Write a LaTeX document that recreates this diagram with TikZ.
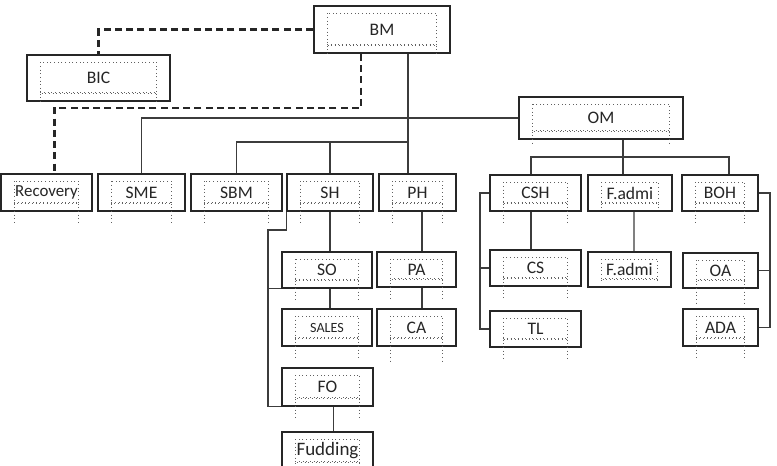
\documentclass[tikz,border=0pt]{standalone}
\usepackage{fontspec}
\setmainfont{Carlito}
\usetikzlibrary{calc}
\definecolor{ink}{HTML}{262626}
\definecolor{wire}{HTML}{3C3C3C}
\definecolor{dots}{HTML}{606060}
\tikzset{
  every node/.style={font=\fontsize{12.5}{14}\selectfont, text=ink},
  post/.style n args={2}{draw=ink, line width=1.1pt, fill=white, inner sep=0pt,
              minimum width=#1*0.025cm, minimum height=#2*0.025cm},
  link/.style={draw=wire, line width=0.9pt},
  loose/.style={draw=ink, line width=1.6pt, dash pattern=on 5pt off 3pt},
  hint/.style={draw=dots, line width=0.6pt, dotted},
}

\begin{document}
\begin{tikzpicture}[x=0.025cm, y=-0.025cm]
\useasboundingbox (0,0) rectangle (777,466);
\clip (0,0) rectangle (777,466);

% ================= top =================
\node[post={136}{47}] (BM)  at (382,29.5) {BM};
\node[post={143}{46}] (BIC) at (98.5,78)  {BIC};
\node[post={164}{42}] (OM)  at (601,118)  {OM};

% ================= first row =================
\node[post={91}{37}] (Recovery) at (46.5,192.5) {\fontsize{12}{14}\selectfont Recovery};
\node[post={87}{37}] (SME)      at (141.5,192.5) {SME};
\node[post={91}{37}] (SBM)      at (236.5,192.5) {SBM};
\node[post={86}{37}] (SH)       at (330,192.5) {SH};
\node[post={77}{37}] (PH)       at (417.5,192.5) {PH};
\node[post={91}{36}] (CSH)      at (535.5,193) {CSH};
\node[post={84}{36}] (Fadmi1)   at (630,193) {F.admi};
\node[post={76}{36}] (BOH)      at (720,193) {BOH};

% ================= lower rows =================
\node[post={90}{36}] (SO)      at (327,270) {SO};
\node[post={90}{37}] (SALES)   at (327,327.5) {\fontsize{10}{11}\selectfont SALES};
\node[post={91}{38}] (FO)      at (327.5,387) {FO};
\node[post={91}{38}] (Fudding) at (327.5,451) {\fontsize{13.5}{15}\selectfont Fudding};
\node[post={79}{35}] (PA)      at (416.5,269.5) {PA};
\node[post={79}{37}] (CA)      at (416.5,327.5) {CA};
\node[post={91}{36}] (CS)      at (535.5,268) {CS};
\node[post={91}{36}] (TL)      at (535.5,329) {TL};
\node[post={83}{35}] (Fadmi2)  at (629.5,269.5) {F.admi};
\node[post={75}{35}] (OA)      at (720.5,270.5) {OA};
\node[post={75}{37}] (ADA)     at (720.5,327.5) {ADA};

% dotted text frames left inside every box
\foreach \n/\l in {BM/2, BIC/2, OM/4, Recovery/11, SME/11, SBM/11, SH/11, PH/12,
                   CSH/12, Fadmi1/-3, BOH/12, SO/11, SALES/13, FO/11, Fudding/11,
                   PA/12, CA/14, CS/12, TL/11, Fadmi2/-5, OA/14, ADA/11}{
  \draw[hint] ($(\n.north west)+(14,8)$) rectangle ($(\n.south east)+(-14,-8)$);
  \draw[hint, line width=1pt] ($(\n.south west)+(14,-9.5)$) -- ($(\n.south east)+(-14,-9.5)$);
  \draw[hint] ($(\n.south west)+(14,-8)$) -- ($(\n.south west)+(14,\l)$);
  \draw[hint] ($(\n.south east)+(-14,-8)$) -- ($(\n.south east)+(-14,\l)$);
}

% ---- dashed reporting lines ----
\coordinate (dj) at (361,108);
\draw[loose] (BM.west) -| (BIC.north);
\draw[loose] (BM.south -| dj) -- (dj) -| ($(Recovery.north)+(8,0)$);

% ---- solid lines under BM ----
\coordinate (trunk) at (408,142);
\draw[link] (BM.south -| trunk) -- (PH.north -| trunk);
\draw[link] (SME.north) |- (OM.west);
\draw[link] (SBM.north) |- (trunk);
\draw[link] (SH.north) -- (SH.north |- trunk);

% ---- under OM ----
\coordinate (bus) at (623,157);
\draw[link] (OM.south -| bus) -- (Fadmi1.north -| bus);
\draw[link] ($(CSH.north)+(-4.5,0)$) |- (bus) -| ($(BOH.north)+(9,0)$);

% ---- SH column ----
\coordinate (sbr) at (268,230);
\draw[link] (SH.south) -- (SH.south |- SO.north);
\draw[link] (SO.south -| SH.south) -- (SALES.north -| SH.south);
\draw[link] (SH.south west) |- (sbr) |- (FO.south west);
\draw[link] (sbr |- SO.south west) -- (SO.south west);
\draw[link] ($(FO.south)+(6,0)$) -- ($(Fudding.north)+(6,0)$);

% ---- PH column ----
\draw[link] ($(PH.south)+(4.5,0)$) -- ($(PA.north)+(5.5,0)$);
\draw[link] ($(PA.south)+(5.5,0)$) -- ($(CA.north)+(5.5,0)$);

% ---- CSH column ----
\coordinate (cbr) at (480,193);
\draw[link] ($(CSH.south)+(-4.5,0)$) -- ($(CS.north)+(-4.5,0)$);
\draw[link] (CSH.west) -- (CSH.west -| cbr) |- (TL.west);
\draw[link] (cbr |- CS.west) -- (CS.west);

% ---- F.admi column ----
\draw[link] ($(Fadmi1.south)+(4,0)$) -- ($(Fadmi2.north)+(4.5,0)$);

% ---- BOH column ----
\coordinate (bbr) at (770,193);
\draw[link] (BOH.east) -- (BOH.east -| bbr) |- (ADA.east);
\draw[link] (bbr |- OA.east) -- (OA.east);

\end{tikzpicture}
\end{document}
